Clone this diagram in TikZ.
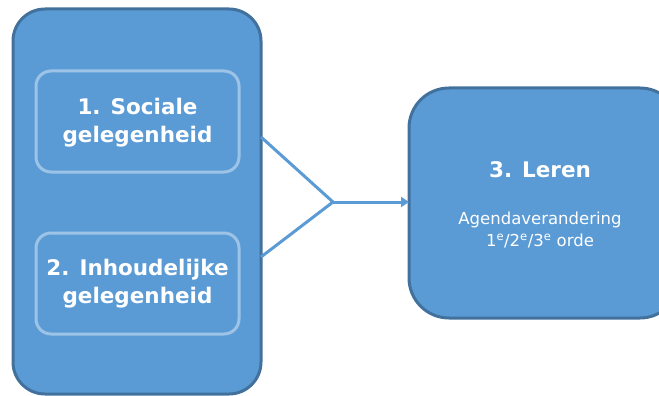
\documentclass[tikz,border=0pt]{standalone}
\usepackage{fontspec}
\setmainfont{DejaVu Sans}
\usetikzlibrary{arrows.meta}
\definecolor{boxfill}{HTML}{5B9BD5}
\definecolor{boxedge}{HTML}{41719C}
\definecolor{inneredge}{HTML}{9DC3E6}
\tikzset{
  outerbox/.style={draw=boxedge, fill=boxfill, line width=3pt, rounded corners=32pt},
  innerbox/.style={draw=inneredge, line width=3pt, rounded corners=15pt},
  boldlabel/.style={text=white, font=\bfseries\fontsize{21.5}{28}\selectfont, align=center},
  smalllabel/.style={text=white, font=\fontsize{16.5}{22}\selectfont, align=center},
  link/.style={draw=boxfill, line width=3pt},
}
\begin{document}
\begin{tikzpicture}[x=1pt, y=-1pt]
  \useasboundingbox (0,0) rectangle (659,396);
  \begin{scope}
    \clip (0,0) rectangle (659,396);
    % left container
    \draw[outerbox] (13,9) rectangle (261,394);
    \coordinate (lefttop) at (261,137);
    \coordinate (leftbot) at (261,257);
    % inner boxes
    \draw[innerbox] (36,71) rectangle (239,172);
    \draw[innerbox] (36,233) rectangle (239,334);
    \node[boldlabel] (social) at (137.5,123) {1. Sociale\\gelegenheid};
    \node[boldlabel] (content) at (137.5,284) {2. Inhoudelijke\\gelegenheid};
    % right box
    \draw[outerbox, rounded corners=40pt] (409,88) rectangle (680,318);
    \coordinate (rightin) at (409,202);
    \node[boldlabel] (learn) at (540,170) {3. Leren};
    \node[smalllabel] (agenda) at (540,230) {Agendaverandering\\1\textsuperscript{e}/2\textsuperscript{e}/3\textsuperscript{e} orde};
    % connectors
    \coordinate (join) at (333,202);
    \draw[link] (lefttop) -- (join) -- (leftbot);
    \draw[link, -{Triangle[length=8pt, width=10pt]}] (join) -- (rightin);
  \end{scope}
\end{tikzpicture}
\end{document}
